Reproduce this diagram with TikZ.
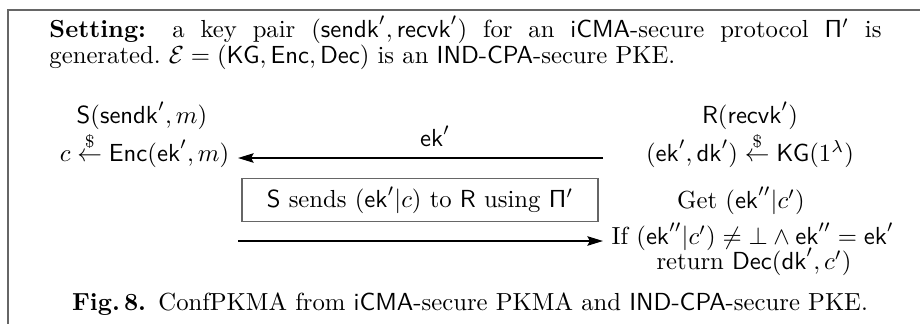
\documentclass[tikz,border=0pt]{standalone}
\usepackage{amsmath}
\usepackage{amssymb}
\usepackage{xcolor}
\usepackage{tikz}
\usetikzlibrary{arrows.meta}

\begin{document}
\begin{tikzpicture}[x=0.405pt, y=-0.405pt,
        msg/.style={line width=0.8pt, -{Stealth[length=6.3pt, width=3.8pt, inset=1pt]}},
        frame/.style={draw=black!60, line width=0.5pt},
        stmt/.style={inner ysep=0pt}]
            \useasboundingbox (0,0) rectangle (920,324);
            \draw[frame] (8,324) -- (8,10) -- (920,10);

            \node[anchor=base west, text width=337pt, align=justify, inner sep=0pt,
                font=\fontsize{10}{10.6}\selectfont] (setting) at (49,37)
                {\textbf{Setting:} a key pair $(\mathsf{sendk}', \mathsf{recvk}')$ for an \textsf{iCMA}-secure protocol $\mathsf{\Pi}'$ is \mbox{generated.} $\mathcal{E} = (\mathsf{KG}, \mathsf{Enc}, \mathsf{Dec})$ is an \textsf{IND-CPA}-secure PKE.};

            % sender side
            \node[stmt, anchor=base] (snd) at (142,123) {$\mathsf{S}(\mathsf{sendk}', m)$};
            \node[stmt, anchor=base east] (enc) at (238,161) {$c \stackrel{\$}{\leftarrow} \mathsf{Enc}(\mathsf{ek}', m)$};

            % receiver side
            \node[stmt, anchor=base] (rcv) at (750,123) {$\mathsf{R}(\mathsf{recvk}')$};
            \node[stmt, anchor=base] (kg) at (750,161) {$(\mathsf{ek}', \mathsf{dk}') \stackrel{\$}{\leftarrow} \mathsf{KG}(1^\lambda)$};
            \node[stmt, anchor=base] (get) at (741,208) {Get $(\mathsf{ek}''|c')$};
            \node[stmt, anchor=base west] (ifl) at (603,244) {If $(\mathsf{ek}''|c') \neq \bot \wedge \mathsf{ek}'' = \mathsf{ek}'$};
            \node[stmt, anchor=base] (ret) at (754,269) {return $\mathsf{Dec}(\mathsf{dk}', c')$};

            % channel
            \node[frame, minimum width=144.2pt, minimum height=17pt] (chan) at (420,200)
                {$\mathsf{S}$ sends $(\mathsf{ek}'|c)$ to $\mathsf{R}$ using $\mathsf{\Pi}'$};

            \coordinate (xr) at (603,158);
            \coordinate (xl) at (238,241);
            \draw[msg] (xr) -- node[above, pos=0.46, yshift=1pt] {$\mathsf{ek}'$} (xr -| enc.east);
            \draw[msg] (xl) -- (xl -| ifl.west);

            \node[anchor=base] (cap) at (470,310)
                {\textbf{Fig.\,8.}\enspace ConfPKMA from \textsf{iCMA}-secure PKMA and \textsf{IND-CPA}-secure PKE.};
        \end{tikzpicture}
\end{document}
